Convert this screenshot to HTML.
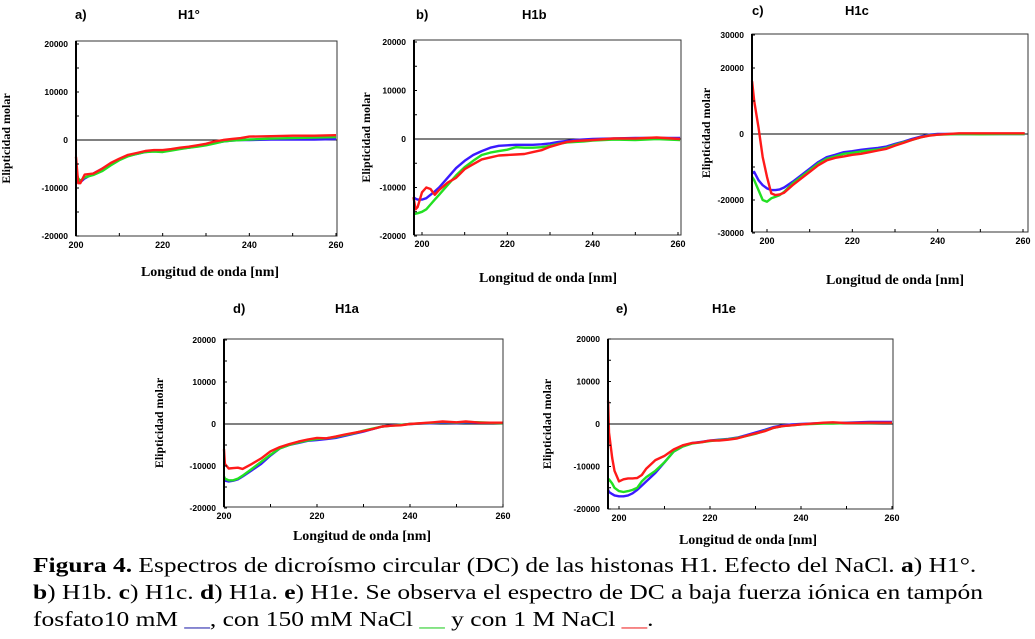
<!DOCTYPE html>
<html><head><meta charset="utf-8">
<style>
body{margin:0;background:#fff;width:1035px;height:639px;overflow:hidden;position:relative;font-family:"Liberation Sans",sans-serif}
svg{position:absolute;left:0;top:0}
.cap{position:absolute;left:33px;font-family:"Liberation Serif",serif;font-size:21px;white-space:nowrap;color:#000;transform-origin:0 0;transform:scaleX(1.213)}
</style></head><body>
<svg id="fig" width="1035" height="560"></svg>
<div class="cap" style="top:553px"><b>Figura 4.</b> Espectros de dicroísmo circular (DC) de las histonas H1. Efecto del NaCl. <b>a</b>) H1°.</div>
<div class="cap" style="top:580px"><b>b</b>) H1b. <b>c</b>) H1c. <b>d</b>) H1a. <b>e</b>) H1e. Se observa el espectro de DC a baja fuerza iónica en tampón</div>
<div class="cap" style="top:607px">fosfato10 mM <span style="color:#2222aa">__</span>, con 150 mM NaCl <span style="color:#22cc22">__</span> y con 1 M NaCl <span style="color:#ee2222">__</span>.</div>
<script>
// data (values in thousands of molar ellipticity)
const wlA=[200,200.5,201,202,204,206,208,210,212,214,216,218,220,222,224,226,228,230,232,234,236,238,240,245,250,255,260];
const blueA=[-8,-8.5,-8.8,-8,-7,-6,-5,-4,-3.3,-2.9,-2.5,-2.3,-2.3,-2.1,-1.8,-1.6,-1.3,-1,-0.6,-0.3,-0.1,0,0,0.1,0.1,0.1,0.2];
const greenA=[-6.5,-8,-8.5,-7.8,-7.3,-6.5,-5.3,-4.2,-3.4,-2.9,-2.5,-2.4,-2.5,-2.2,-1.9,-1.6,-1.4,-1.1,-0.7,-0.3,-0.1,0,0.1,0.3,0.4,0.5,0.6];
const redA=[-3.5,-9,-9,-7.2,-7,-6,-4.8,-3.9,-3.1,-2.7,-2.3,-2.1,-2.1,-1.9,-1.6,-1.4,-1.1,-0.8,-0.3,0,0.2,0.4,0.7,0.8,0.9,0.9,1];

const wlB=[198,198.5,199,200,201,202,203,204,206,208,210,212,214,216,218,220,222,224,226,228,230,232,234,236,238,240,245,250,255,260.5];
const blueB=[-12,-12.3,-12.5,-12.5,-12.2,-11.5,-10.8,-10,-8,-6,-4.5,-3.3,-2.5,-1.8,-1.4,-1.3,-1.2,-1.2,-1.2,-1.1,-0.9,-0.6,-0.4,-0.2,-0.1,0,0.1,0.2,0.2,0.2];
const greenB=[-15.5,-15.4,-15.3,-15,-14.5,-13.5,-12.5,-11.5,-9.5,-7.5,-5.8,-4.5,-3.3,-2.8,-2.5,-2.2,-1.7,-1.8,-1.8,-1.7,-1.4,-1,-0.7,-0.6,-0.5,-0.3,-0.1,-0.2,0,-0.2];
const redB=[-12,-14.5,-14,-11,-10,-10.3,-11.5,-10.5,-9,-8,-6.2,-5.2,-4.2,-3.8,-3.4,-3.3,-3.2,-3.1,-2.7,-2.3,-1.6,-1.1,-0.6,-0.4,-0.3,-0.2,0.1,0.1,0.3,0];

const wlC=[196.5,197,198,199,200,201,202,203,204,206,208,210,212,214,216,218,220,222,224,226,228,230,232,234,236,238,240,245,250,255,260.4];
const blueC=[-12,-11.5,-14,-15.5,-16.5,-17,-17,-16.8,-16.2,-14.5,-12.5,-10.5,-8.5,-7,-6.3,-5.5,-5.2,-4.8,-4.5,-4.2,-3.8,-3,-2.3,-1.5,-0.8,-0.2,0,0,0,0,0];
const greenC=[-13,-14,-17,-20,-20.5,-19.5,-19,-18.5,-17.5,-15,-13,-11,-9,-7.5,-6.8,-6,-5.7,-5.3,-5,-4.7,-4.2,-3.3,-2.5,-1.8,-1,-0.4,-0.2,0,-0.1,0,0];
const redC=[16,10,2,-7,-13,-18,-18.5,-18.3,-17.8,-15.5,-13.5,-11.5,-9.5,-8,-7.2,-6.8,-6.3,-6,-5.5,-5,-4.5,-3.5,-2.7,-1.8,-1,-0.5,-0.2,0.2,0.2,0.2,0.2];

const wlD=[200,200.2,201,202,203,204,206,208,210,212,214,216,218,220,222,224,226,228,230,232,234,236,238,240,245,247,250,252,255,260];
const blueD=[-13,-13.5,-13.7,-13.5,-13.2,-12.5,-11,-9.5,-7.5,-5.8,-5,-4.5,-4,-3.8,-3.6,-3.3,-2.8,-2.3,-1.8,-1.2,-0.6,-0.3,-0.2,0,0.2,0.3,0.2,0.3,0.3,0.3];
const greenD=[-12.5,-13,-13.4,-13.4,-13,-12.3,-10.7,-9,-7.3,-5.8,-5,-4.4,-3.9,-3.6,-3.4,-3.1,-2.6,-2.2,-1.6,-1.1,-0.6,-0.4,-0.2,0,0.3,0.5,0.3,0.5,0.4,0.2];
const redD=[-6,-9.5,-10.6,-10.5,-10.4,-10.7,-9.5,-8.2,-6.5,-5.5,-4.8,-4.2,-3.7,-3.3,-3.4,-3,-2.5,-2.1,-1.7,-1.2,-0.6,-0.4,-0.3,0,0.4,0.6,0.4,0.6,0.3,0.3];

const wlE=[197.6,197.8,198.5,199,200,201,202,203,204,205,206,208,210,212,214,216,218,220,222,224,226,228,230,232,234,236,238,240,245,247,250,255,260];
const blueE=[-15.5,-16,-16.5,-16.8,-17,-17,-16.8,-16.3,-15.5,-14.5,-13.5,-11.5,-9,-6.5,-5.3,-4.5,-4.2,-3.9,-3.7,-3.5,-3.2,-2.6,-2,-1.4,-0.7,-0.3,-0.1,0,0.2,0.2,0.3,0.5,0.5];
const greenE=[-13.5,-13,-14,-15,-15.8,-16,-15.8,-15.5,-15,-13.5,-12.5,-11,-9,-6.5,-5.3,-4.6,-4.3,-4,-3.8,-3.6,-3.3,-2.8,-2.3,-1.6,-0.9,-0.5,-0.3,-0.1,0.1,0.1,0.2,0.2,0.3];
const redE=[5.5,-2,-8,-11,-13.5,-13,-12.8,-12.8,-12.7,-12,-10.5,-8.5,-7.5,-6,-5,-4.5,-4.3,-3.9,-3.9,-3.7,-3.4,-2.8,-2.2,-1.7,-0.9,-0.5,-0.3,-0.1,0.3,0.4,0.2,0.3,0.3];

const xTicks=[200,220,240,260];
const yTicksStd=[20000,10000,0,-10000,-20000];
const yTicksC=[30000,20000,0,-20000,-30000];

const NS='http://www.w3.org/2000/svg';
const svg=document.getElementById('fig');
function mk(tag,attrs,parent){const e=document.createElementNS(NS,tag);for(const k in attrs)e.setAttribute(k,attrs[k]);(parent||svg).appendChild(e);return e;}

const panels=[
 {id:'a',title:'H1°',L:76,R:337,T:41,B:236,x0:200,x1:260,px0:76,px1:336,ymax:20,yzero:140,ymin:-20,ypx:96,ticks:yTicksStd,wl:wlA,s:[blueA,greenA,redA],lx:75,tx:178,ly:19,ytx:10,xtx:210,xty:276},
 {id:'b',title:'H1b',L:414,R:681,T:40,B:235,x0:200,x1:260,px0:422,px1:678,ymax:20,yzero:139,ymin:-20,ypx:97,ticks:yTicksStd,wl:wlB,s:[blueB,greenB,redB],lx:416,tx:522,ly:19,ytx:370,xty:282,xtx:548},
 {id:'c',title:'H1c',L:752,R:1028,T:34,B:232,x0:200,x1:260,px0:767,px1:1023,ymax:30,yzero:134,ymin:-30,ypx:66,ticks:yTicksC,wl:wlC,s:[blueC,greenC,redC],lx:752,tx:845,ly:15,ytx:710,xty:284,xtx:895},
 {id:'d',title:'H1a',L:224,R:503,T:339,B:507,x0:200,x1:260,px0:224,px1:503,ymax:20,yzero:424,ymin:-20,ypx:84,ticks:yTicksStd,wl:wlD,s:[blueD,greenD,redD],lx:233,tx:335,ly:313,ytx:163,xty:540,xtx:362},
 {id:'e',title:'H1e',L:608,R:893,T:339,B:509,x0:200,x1:260,px0:619,px1:892,ymax:20,yzero:424,ymin:-20,ypx:85,ticks:yTicksStd,wl:wlE,s:[blueE,greenE,redE],lx:616,tx:712,ly:313,ytx:551,xty:544,xtx:748}
];
const colors=['#3a1aff','#22e022','#ff1a1a'];
const names=['series-10mm-phosphate','series-150mm-nacl','series-1m-nacl'];

panels.forEach(p=>{
 const g=mk('g',{});
 
 
 const xs=v=>p.px0+(v-p.x0)*(p.px1-p.px0)/(p.x1-p.x0);
 const ys=v=>p.yzero-v*p.ypx/20;
 const lab=mk('text',{x:p.lx,y:p.ly,'font-size':13,'font-weight':'bold','font-family':'Liberation Sans,sans-serif'},g);lab.textContent=p.id+')';
 
 const tt=mk('text',{x:p.tx,y:p.ly,'font-size':13,'font-weight':'bold','font-family':'Liberation Sans,sans-serif'},g);tt.textContent=p.title;
 
 const zl=mk('line',{x1:p.L,x2:p.R,y1:ys(0),y2:ys(0),stroke:'#000','stroke-width':1},g);
 
 p.s.forEach((ser,i)=>{
  const d=ser.map((v,k)=>(k?'L':'M')+xs(p.wl[k]).toFixed(1)+' '+ys(v).toFixed(1)).join(' ');
  const path=mk('path',{d:d,fill:'none',stroke:colors[i],'stroke-width':2.4,'stroke-linejoin':'round'},g);
  
 });
 const fr=mk('rect',{x:p.L,y:p.T,width:p.R-p.L,height:p.B-p.T,fill:'none',stroke:'#333','stroke-width':1},g);
 
 mk('line',{x1:p.L,x2:p.L,y1:p.T,y2:p.B,stroke:'#000','stroke-width':2},g);
 p.ticks.forEach(t=>{
  const y=ys(t/1000);
  mk('line',{x1:p.L,x2:p.L+3,y1:y,y2:y,stroke:'#000'},g);
  const tl=mk('text',{x:p.L-8,y:y+3,'font-size':8.5,'font-weight':'bold','text-anchor':'end','font-family':'Liberation Sans,sans-serif'},g);
  tl.textContent=t;
  
 });
 const step=p.ymax===30?10:5;
 for(let v=p.ymin+step;v<p.ymax;v+=step){mk('line',{x1:p.L,x2:p.L+3,y1:ys(v),y2:ys(v),stroke:'#000'},g);}
 xTicks.forEach(t=>{
  const x=xs(t);
  mk('line',{x1:x,x2:x,y1:p.B,y2:p.B-3,stroke:'#000'},g);
  const xl=mk('text',{x:x,y:p.B+12,'font-size':9,'font-weight':'bold','text-anchor':'middle','font-family':'Liberation Sans,sans-serif'},g);
  xl.textContent=t;
  
 });
 [210,230,250].forEach(t=>mk('line',{x1:xs(t),x2:xs(t),y1:p.B,y2:p.B-3,stroke:'#000'},g));
 const xt=mk('text',{x:p.xtx,y:p.xty,'font-size':14,'font-weight':'bold','text-anchor':'middle','font-family':'Liberation Serif,serif'},g);
 xt.textContent='Longitud de onda [nm]';
 
 const cy=(p.T+p.B)/2;
 const yt=mk('text',{x:0,y:0,'font-size':12,'font-weight':'bold','text-anchor':'middle','font-family':'Liberation Serif,serif',transform:'translate('+(p.ytx)+','+cy+') rotate(-90)'},g);
 yt.textContent='Elipticidad molar';
 
});
</script>
</body></html>
